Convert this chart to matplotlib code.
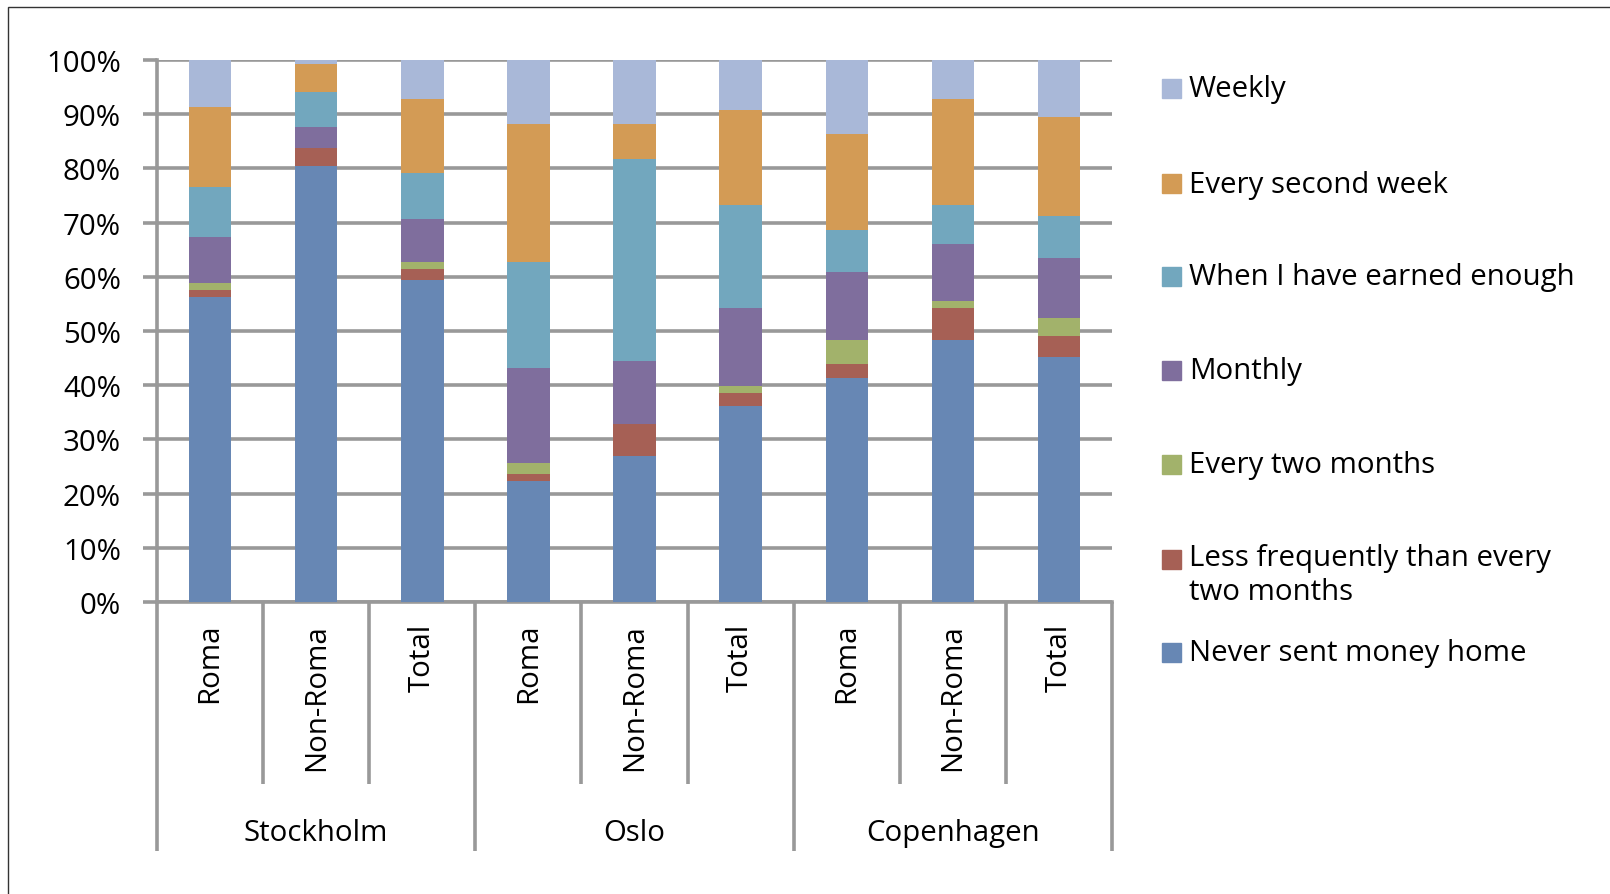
import numpy as np
import matplotlib
matplotlib.use('Agg')
from matplotlib import pyplot
from matplotlib.patches import Rectangle
from matplotlib.transforms import blended_transform_factory

pyplot.rcParams['font.family'] = ['Open Sans', 'DejaVu Sans']

cities = ['Stockholm', 'Oslo', 'Copenhagen']
groups = ['Roma', 'Non-Roma', 'Total']

# shares in %, bottom to top, one value per bar (Stockholm R/NR/T, Oslo R/NR/T, Copenhagen R/NR/T)
never_sent = [56.3, 80.4, 59.5, 22.4, 26.9, 36.1, 41.3, 48.4, 45.2]
less_frequent = [1.2, 3.3, 1.9, 1.2, 5.9, 2.5, 2.6, 5.9, 3.9]
two_months = [1.3, 0.0, 1.3, 2.0, 0.0, 1.3, 4.5, 1.2, 3.3]
monthly = [8.6, 3.9, 7.9, 17.6, 11.7, 14.4, 12.4, 10.5, 11.0]
earned_enough = [9.1, 6.5, 8.5, 19.6, 37.2, 18.9, 7.8, 7.2, 7.8]
second_week = [14.9, 5.2, 13.7, 25.4, 6.5, 17.6, 17.7, 19.6, 18.3]
weekly = [8.6, 0.7, 7.2, 11.8, 11.8, 9.2, 13.7, 7.2, 10.5]

series = [
    ('Never sent money home', never_sent, '#6787b4'),
    ('Less frequently than every\ntwo months', less_frequent, '#a66055'),
    ('Every two months', two_months, '#a2b26b'),
    ('Monthly', monthly, '#7f6e9d'),
    ('When I have earned enough', earned_enough, '#72a7be'),
    ('Every second week', second_week, '#d39b55'),
    ('Weekly', weekly, '#a9b8d8'),
]

grid_col = '#999999'
fs = 21.2
W, H = 1610, 895

fig = pyplot.figure(figsize=(16.1, 8.95), dpi=100)
fig.patches.append(Rectangle((8 / W, -0.1), 1.2, 1 - 8 / H + 0.1, transform=fig.transFigure,
                             fill=False, edgecolor='#333333', linewidth=1.0))

ax = fig.add_axes([157 / W, 1 - 603 / H, (1112 - 157) / W, (603 - 61) / H])

x = np.arange(len(never_sent))
bottom = np.zeros(len(x))
for label, vals, col in series:
    vals = np.array(vals)
    ax.bar(x, vals, 0.4, bottom=bottom, color=col, edgecolor='none', zorder=3)
    bottom += vals

ax.set_xlim(-0.5, 8.5)
ax.set_ylim(0, 100)
ax.set_yticks(np.arange(0, 101, 10))
ax.set_yticklabels(['{}%'.format(v) for v in range(0, 101, 10)])
ax.yaxis.grid(True, color=grid_col, linewidth=2.6, zorder=0)
ax.tick_params(axis='y', length=10, width=2.6, color=grid_col, pad=16, labelsize=fs)
ax.set_xticks(x)
ax.set_xticklabels(groups * 3, rotation=90, va='top')
ax.tick_params(axis='x', length=0, pad=15, labelsize=fs)
for s in ['top', 'right']:
    ax.spines[s].set_visible(False)
for s in ['left', 'bottom']:
    ax.spines[s].set_color(grid_col)
    ax.spines[s].set_linewidth(2.6)

# category separators below the axis
trans = blended_transform_factory(ax.transData, ax.transAxes)
for b in np.arange(-0.5, 9, 1):
    low = -0.46 if b in (-0.5, 2.5, 5.5, 8.5) else -0.336
    ax.plot([b, b], [0, low], transform=trans, color=grid_col, linewidth=2.6,
            clip_on=False, solid_capstyle='butt')
for i, c in enumerate(cities):
    ax.text(3 * i + 1, -0.425, c, transform=trans, ha='center', va='center', fontsize=fs)

# legend, top to bottom
leg_y = [90, 185, 278, 372, 466, 561, 654]
for (label, vals, col), y in zip(series[::-1], leg_y):
    fig.patches.append(Rectangle((1162 / W, 1 - (y + 9) / H), 19 / W, 19 / H,
                                 transform=fig.transFigure, color=col))
    if '\n' in label:
        fig.text(1189 / W, 1 - (y - 17) / H, label, ha='left', va='top', fontsize=fs,
                 linespacing=1.22)
    else:
        fig.text(1189 / W, 1 - y / H, label, ha='left', va='center', fontsize=fs)

fig.savefig('out.png', dpi=100)
